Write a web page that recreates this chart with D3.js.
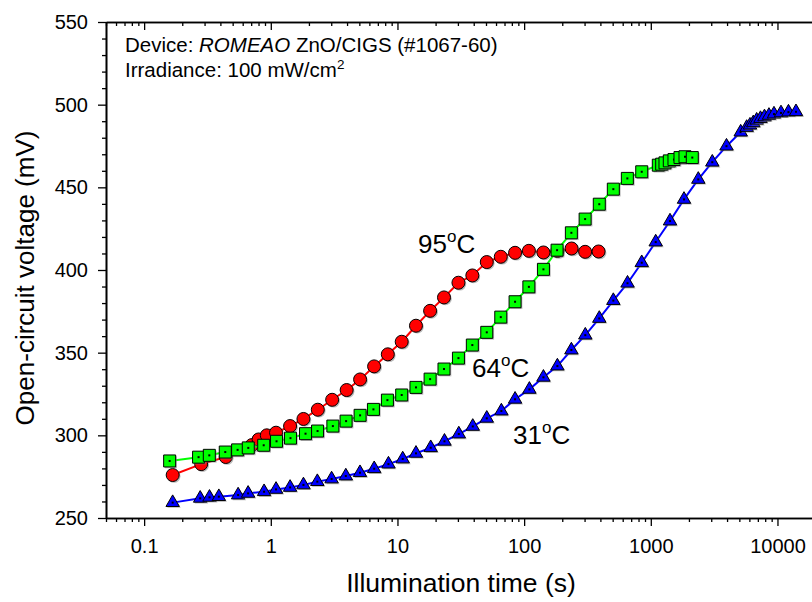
<!DOCTYPE html>
<html>
<head>
<meta charset="utf-8">
<script src="https://cdn.jsdelivr.net/npm/d3@7"></script>
<style>
  body { margin: 0; background: #fff; }
  svg { display: block; font-family: Arial, "Liberation Sans", sans-serif; }
</style>
</head>
<body>
<svg id="chart" width="812" height="602"></svg>
<script>
// Open-circuit voltage transients under illumination at three temperatures
const time95 = [0.168, 0.282, 0.441, 0.708, 0.801, 0.930, 1.10, 1.42, 1.81, 2.35,
  3.05, 3.97, 5.07, 6.54, 8.39, 10.8, 14.0, 18.1, 23.3, 30.3,
  39.0, 50.7, 65.4, 84.8, 109, 142, 183, 237, 303, 387];
const voc95 = [276, 282.6, 286.9, 294.1, 297.5, 300, 301.6, 305.6, 309.9, 315.5,
  321.5, 327.4, 333.8, 341.7, 349, 356.6, 366.3, 375.3, 383.4, 392.3,
  396.7, 404.8, 408, 410.4, 411.6, 410.6, 411.5, 413, 411, 411.2];

const time64 = [0.159, 0.269, 0.327, 0.437, 0.547, 0.664, 0.879, 1.11, 1.43, 1.88,
  2.34, 3.09, 3.93, 5.07, 6.46, 8.33, 10.8, 14.0, 18.1, 23.3,
  30.3, 39.0, 50.7, 65.4, 84.8, 109, 142, 182, 236, 303,
  392, 506, 653, 848, 1146, 1219, 1294, 1400, 1524, 1700, 1862, 2126];
const voc64 = [284.5, 286.8, 287.9, 289.9, 291.2, 292.4, 294, 296.4, 298.3, 301,
  302.6, 305.6, 308.6, 312.1, 315.7, 321.3, 324.4, 329, 334, 340.1,
  346.7, 354.6, 362.3, 371.5, 380.8, 389.8, 400.4, 412, 422.5, 430.8,
  439.8, 448.9, 455.4, 459.4, 463.4, 464, 464.8, 466, 466.8, 468, 468.5, 468];

const time31 = [0.168, 0.277, 0.328, 0.389, 0.552, 0.662, 0.885, 1.10, 1.42, 1.81,
  2.33, 3.02, 3.91, 5.06, 6.55, 8.49, 11.0, 14.0, 18.3, 23.5,
  30.5, 39.3, 50.7, 66.1, 84.8, 110, 142, 183, 236, 304,
  392, 506, 655, 848, 1093, 1418, 1828, 2371, 3058, 3959,
  5124, 5713, 6067, 6442, 6850, 7341, 7897, 8567, 9385, 10660, 12210, 14000];
const voc31 = [259.3, 261.9, 262.5, 262.9, 263.9, 264.9, 265.9, 267.3, 268.5, 270,
  272, 273.6, 275.4, 277.4, 279.8, 282.6, 285.7, 289.1, 292.5, 296.4,
  300.8, 305.4, 310.3, 314.7, 321.8, 327.8, 335.1, 341.9, 351.6, 360.6,
  370.7, 381.5, 392, 404.4, 416.9, 429.6, 442.7, 454.8, 465.2, 474.9,
  483.4, 486.2, 487.6, 489, 490.6, 491.6, 492.6, 493.5, 494.3, 495, 495.5, 495.7];

const xMajorTicks = [0.1, 1, 10, 100, 1000, 10000];
const xTickLabels = ["0.1", "1", "10", "100", "1000", "10000"];
const yMajorTicks = [250, 300, 350, 400, 450, 500, 550];

const svg = d3.select("#chart");

const x = d3.scaleLog().domain([0.05, 20000]).range([106, 815.6]);
const y = d3.scaleLinear().domain([250, 550]).range([518, 22]);

// minor tick values: 2..9 in each decade, every 10 mV on the voltage axis
const xMinor = [];
for (let e = -2; e <= 4; e++) {
  for (let m = 2; m <= 9; m++) {
    const v = m * Math.pow(10, e);
    if (v >= 0.05 && v <= 20000) xMinor.push(v);
  }
}
const yMinor = d3.range(250, 551, 10).filter(v => v % 50 !== 0);

function styleAxis(g) {
  g.selectAll("path.domain").attr("stroke", "#000").attr("stroke-width", 1.6);
  g.selectAll(".tick line").attr("stroke", "#000").attr("stroke-width", 1.3);
  g.selectAll(".tick text").attr("fill", "#000")
    .style("font-family", "Arial, 'Liberation Sans', sans-serif");
}

// bottom axis
const gxMinor = svg.append("g").attr("transform", `translate(0,${y(250)})`)
  .call(d3.axisBottom(x).tickValues(xMinor).tickSize(4).tickSizeOuter(0).tickFormat(""));
styleAxis(gxMinor);
const gx = svg.append("g").attr("transform", `translate(0,${y(250)})`)
  .call(d3.axisBottom(x).tickValues(xMajorTicks).tickSize(8).tickSizeOuter(0)
    .tickPadding(13).tickFormat((d, i) => xTickLabels[i]));
styleAxis(gx);
gx.selectAll(".tick text").attr("font-size", 20);

// top axis, ticks pointing into the plot
const gtMinor = svg.append("g").attr("transform", `translate(0,${y(550)})`)
  .call(d3.axisBottom(x).tickValues(xMinor).tickSize(4).tickSizeOuter(0).tickFormat(""));
styleAxis(gtMinor);
const gt = svg.append("g").attr("transform", `translate(0,${y(550)})`)
  .call(d3.axisBottom(x).tickValues(xMajorTicks).tickSize(8).tickSizeOuter(0).tickFormat(""));
styleAxis(gt);

// left axis
const gyMinor = svg.append("g").attr("transform", `translate(${x(0.05)},0)`)
  .call(d3.axisLeft(y).tickValues(yMinor).tickSize(4).tickSizeOuter(0).tickFormat(""));
styleAxis(gyMinor);
const gy = svg.append("g").attr("transform", `translate(${x(0.05)},0)`)
  .call(d3.axisLeft(y).tickValues(yMajorTicks).tickSize(8).tickSizeOuter(0)
    .tickPadding(10).tickFormat(d3.format("d")));
styleAxis(gy);
gy.selectAll(".tick text").attr("font-size", 20);

// axis titles
svg.append("text")
  .attr("x", 461).attr("y", 592)
  .attr("text-anchor", "middle").attr("font-size", 26.5).attr("fill", "#000")
  .text("Illumination time (s)");
svg.append("text")
  .attr("transform", "translate(34,278) rotate(-90)")
  .attr("text-anchor", "middle").attr("font-size", 26).attr("fill", "#000")
  .text("Open-circuit voltage (mV)");

// device annotation
const note = svg.append("text").attr("x", 125).attr("y", 52)
  .attr("font-size", 20.5).attr("fill", "#000");
note.append("tspan").text("Device: ");
note.append("tspan").attr("font-style", "italic").text("ROMEAO");
note.append("tspan").text(" ZnO/CIGS (#1067-60)");
const irr = svg.append("text").attr("x", 125).attr("y", 77)
  .attr("font-size", 20.5).attr("fill", "#000");
irr.append("tspan").text("Irradiance: 100 mW/cm");
irr.append("tspan").attr("font-size", 13.5).attr("dy", -8).text("2");

// series
const series = [
  { t: time95, v: voc95, color: "#ff0000", shape: "circle" },
  { t: time64, v: voc64, color: "#00ff00", shape: "square" },
  { t: time31, v: voc31, color: "#0000ff", shape: "triangle" }
];

const symbolFor = {
  circle: d3.symbol().type(d3.symbolCircle).size(Math.PI * 6.5 * 6.5),
  square: d3.symbol().type(d3.symbolSquare).size(12 * 12),
  triangle: d3.symbol().type(d3.symbolTriangle).size(78)
};

const line = d3.line().x(d => x(d[0])).y(d => y(d[1]));

series.forEach(s => {
  const pts = s.t.map((t, i) => [t, s.v[i]]);
  const g = svg.append("g");
  g.append("path").datum(pts)
    .attr("d", line).attr("fill", "none")
    .attr("stroke", s.color).attr("stroke-width", 2);
  const marks = g.selectAll("g.mark").data(pts).join("g")
    .attr("class", "mark")
    .attr("transform", d => `translate(${x(d[0])},${y(d[1])})`);
  // soft drop shadow
  marks.append("path").attr("d", symbolFor[s.shape]())
    .attr("transform", "translate(1.3,1.3)")
    .attr("fill", "#808080").attr("opacity", 0.55);
  marks.append("path").attr("d", symbolFor[s.shape]())
    .attr("fill", s.color).attr("stroke", "#000").attr("stroke-width", 1);
  if (s.shape !== "circle") {
    marks.append("rect").attr("x", -1).attr("y", -1)
      .attr("width", 2).attr("height", 2).attr("fill", "#000");
  }
});

// temperature labels
function tempLabel(px, py, num) {
  const t = svg.append("text").attr("x", px).attr("y", py)
    .attr("font-size", 26).attr("fill", "#000");
  t.append("tspan").text(num);
  t.append("tspan").attr("font-size", 17).attr("dy", -11).text("o");
  t.append("tspan").attr("dy", 11).text("C");
}
tempLabel(418, 253, "95");
tempLabel(472, 377, "64");
tempLabel(513, 444, "31");
</script>
</body>
</html>
